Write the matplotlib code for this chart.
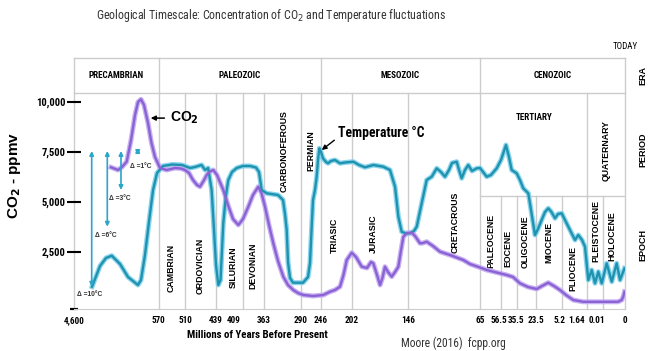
import numpy as np
import matplotlib.pyplot as plt
import matplotlib.transforms as mtransforms
from matplotlib import font_manager

# pick a narrow face for the horizontal texts when one is installed
fonts = font_manager.fontManager.ttflist
names = {f.name for f in fonts}
NARROW, STRETCH = 'Liberation Sans', 'normal'
if 'Roboto Condensed' in names:
    NARROW = 'Roboto Condensed'
elif 'Liberation Sans Narrow' in names:
    NARROW = 'Liberation Sans Narrow'
elif any(f.name == 'DejaVu Sans' and str(f.stretch) in ('condensed', '87.5') for f in fonts):
    NARROW, STRETCH = 'DejaVu Sans', 'condensed'
plt.rcParams['font.family'] = ['Liberation Sans', 'DejaVu Sans']
plt.rcParams['axes.unicode_minus'] = False

# Timescale ticks (Ma) and where each sits on the drawn (non-linear) timeline
tick_ages = [4600, 570, 510, 439, 409, 363, 290, 246, 202, 146, 65, 56.5, 35.5, 23.5, 5.2, 1.64, 0.01, 0]
tick_labels = ['4,600', '570', '510', '439', '409', '363', '290', '246', '202', '146',
               '65', '56.5', '35.5', '23.5', '5.2', '1.64', '0.01', '0']
tick_pos = [0, 84.5, 111, 142, 168.7, 190, 226.5, 246.5, 277.7, 334, 406, 426.7, 442.5,
            462.3, 487.5, 513.3, 529.3, 550.5]
# small sideways shifts (pixels) of crowded tick labels
label_nudge = {'409': -9, '56.5': -2, '5.2': -2, '1.64': -11, '0.01': -6}

y_ticks = [2500, 5000, 7500, 10000]

# Temperature curve (drawn on the CO2 scale), age in Ma
temp_age = [3740, 3360, 3075, 2800, 2405, 2025, 1550, 1405, 1215, 1025, 830, 640, 560, 539, 517,
            498.5, 487, 472, 464, 457, 449, 443.6, 439, 436.4, 433.9, 430.8, 427.8, 425.2, 421,
            415.7, 408.4, 393.2, 380.3, 373.8, 368, 357.6, 335, 325, 321, 317.6, 315, 311, 305,
            284.5, 273.5, 269.1, 264.7, 262.5, 258.1, 254.4, 251.5, 248.6, 245.3, 242.5, 238.2,
            235.4, 231.2, 225.6, 218.5, 211.5, 200.4, 194.7, 188.8, 180.5, 170.6, 163.9, 158.9,
            155.6, 152.3, 148, 143.75, 139.25, 136.2, 130.6, 125, 119.3, 113.7, 108.9, 104.4,
            99.9, 96.5, 91.2, 88.6, 85.6, 81.9, 78.2, 74, 68.7, 65, 62.25, 60.5, 58.15, 56.1,
            49.5, 45.5, 41.9, 35.4, 33.4, 31.4, 28.35, 26.7, 24.3, 22.27, 19.6, 17.2, 14.8, 12.5,
            9.9, 7.75, 5.17, 4.72, 4.03, 3.34, 2.88, 2.37, 1.96, 1.54, 1.19, 0.855, 0.52, 0.17,
            0.0084, 0.0060, 0.0037, 0.0021, 0]
temp_val = [755, 1790, 2190, 2305, 1890, 1240, 840, 1090, 2340, 3990, 5590, 6440, 6790, 6865, 6840,
            6690, 6740, 6840, 6590, 6690, 5590, 3590, 1840, 840, 1090, 3940, 5340, 6090, 6490,
            6690, 6790, 6790, 6715, 6490, 5590, 5425, 5340, 5090, 4390, 3590, 1990, 1190, 955,
            955, 1240, 1940, 4090, 5090, 5590, 6255, 7090, 7675, 7490, 7175, 6990,
            6925, 7040, 7090, 6925, 6965, 7005, 6840, 6725, 6840, 6755, 6590, 5755,
            4255, 3505, 3415, 3425, 3540, 3755, 4925, 6090, 6255, 6675, 6490, 6255,
            6590, 6940, 7005, 6590, 6175, 6590, 6840, 6540, 6675, 6690, 6255, 6340, 6675, 7090,
            7840, 7240, 6590, 6425, 6090, 5675, 5425, 4590, 3340, 3640, 4090, 4490, 4675, 4490,
            4175, 4390, 4425, 4090, 3590, 3090, 3340, 3090, 2755, 1090, 1590, 925, 1505, 925,
            1925, 1005, 1925, 1090, 1675]

# CO2 concentration (ppmv), age in Ma
co2_age = [2835, 2500, 2310, 2087, 1880, 1690, 1548, 1405, 1262, 1071, 904, 737, 566.6, 551.4,
           532.6, 519, 510, 500.8, 491.7, 482.5, 475.7, 467.6, 460.3, 452.75, 445.2, 437.9, 430.8,
           425.5, 419.9, 413.9, 408.4, 396.9, 386.8, 375.3, 368.4, 361, 353, 344.4, 335, 324.4,
           315, 304.4, 295, 283.8, 262.5, 242, 232.6, 225.6, 218.5, 213.6, 209, 202, 197.7, 192,
           186.8, 182.8, 180.5, 176.8, 173.8, 171.4, 168.9, 165.9, 162.2, 158.9, 155.6, 152.9,
           150.6, 147, 141.8, 138.1, 132.5, 129.1, 125, 117.9, 110, 98.75, 83.8, 76.25, 65, 62.25,
           48.5, 40.1, 33.4, 28.5, 23.2, 19.4, 14.8, 10.65, 6.3, 4.58, 3.57, 2.19, 0.0068,
           0.0031, 0.0013, 0.0005, 0]
co2_val = [6725, 6590, 6740, 7005, 8090, 9340, 9990, 10125, 9840, 8940, 7940, 7240, 6690, 6590,
           6690, 6665, 6590, 6440, 6090, 5840, 5755, 6040, 6340, 6515, 6590, 6340, 5590,
           4840, 4140, 3840, 4140, 4755, 5340, 5755, 5440, 4755, 3840, 2925, 2040, 1255,
           840, 590, 440, 340, 290, 340, 505, 590, 755, 1340, 2090, 2455, 2240, 1755,
           1690, 1990, 1925, 1340, 840, 1190, 1755, 1490, 1255, 1490, 1755, 2590,
           3255, 3440, 3455, 3290, 2925, 2940, 3005, 2790, 2505, 2340, 2090, 1890, 1715, 1590,
           1340, 1240, 925, 740, 640, 790, 955, 790, 590, 340, 90, 0, 0,
           0, 90, 290, 505]

# Temperature-range markers
delta_labels = ['Δ =10°C', 'Δ =6°C', 'Δ =3°C', 'Δ =1°C']
delta_age = [3756, 3012, 2359, 1562]
delta_top = [7540, 7540, 7540, 7690]
delta_bottom = [755, 3755, 5590, 7340]

eras = [('PRECAMBRIAN', 4600, 570), ('PALEOZOIC', 570, 246), ('MESOZOIC', 246, 65), ('CENOZOIC', 65, 0)]
periods = [('CAMBRIAN', 542, 1690), ('ORDOVICIAN', 476, 1790), ('SILURIAN', 420, 1740),
           ('DEVONIAN', 387, 1790), ('CARBONOFEROUS', 323, 7540), ('PERMIAN', 268, 7540),
           ('TRIASIC', 226, 3340), ('JURASIC', 180, 3390), ('CRETACROUS', 93, 3990),
           ('QUATERNARY', 0.0087, 7540)]
epochs = [('PALEOCENE', 60.6, 3040), ('EOCENE', 46.8, 2690), ('OLIGOCENE', 30.35, 2990),
          ('MIOCENE', 14.3, 2990), ('PLIOCENE', 3.57, 1665), ('PLEISTOCENE', 0.784, 3540),
          ('HOLOCENE', 0.0058, 3290)]

full_lines = [4600, 570, 510, 439, 409, 363, 290, 246, 202, 146, 65, 1.64, 0]
epoch_lines = [56.5, 35.5, 23.5, 5.2, 0.01]
era_lines = [4600, 570, 246, 65, 0]

asc_ages = np.array(tick_ages[::-1], dtype=float)
asc_neg = -np.array(tick_pos[::-1], dtype=float)


# age -> minus the timeline position, so the scale increases with age (axis is then inverted)
def fwd(a):
    return np.interp(np.asarray(a, dtype=float), asc_ages, asc_neg)


def inv(p):
    return np.interp(np.asarray(p, dtype=float), asc_neg, asc_ages)


def mid(a0, a1):
    return float(inv((fwd(a0) + fwd(a1)) / 2))


TEAL = '#1f93ad'
TEAL_HALO = '#7fd0ee'
PURPLE = '#8a62d4'
PURPLE_HALO = '#c2aaf2'
GRID = '#cccccc'

fig = plt.figure(figsize=(6.5, 3.51), dpi=100)
ax = fig.add_axes([74 / 650, 42 / 351, 550.5 / 650, 216 / 351])
ax.set_xscale('function', functions=(fwd, inv))
ax.set_xlim(4600, 0)
ax.set_ylim(-360, 10440)

for s in ['top', 'right', 'left']:
    ax.spines[s].set_visible(False)
ax.spines['bottom'].set_color(GRID)

# grid of the timescale table
xt = ax.get_xaxis_transform()
head = 1 + 35 / 216
for a in full_lines:
    top = head if a in era_lines else 1.0
    ax.plot([a, a], [0, top], transform=xt, color=GRID, lw=1, clip_on=False, zorder=1)
for a in epoch_lines:
    ax.plot([a, a], [0, 0.523], transform=xt, color=GRID, lw=1, zorder=1)
ax.plot([65, 0], [0.523, 0.523], transform=xt, color=GRID, lw=1, zorder=1)
for yy in [1.0, head]:
    ax.plot([4600, 0], [yy, yy], transform=xt, color=GRID, lw=1, clip_on=False, zorder=1)
ax.plot([4600, 4600], [0, 0], transform=xt, marker='_', ms=6, mew=1.5, color='black', clip_on=False)

for name, a0, a1 in eras:
    ax.text(mid(a0, a1), 1.079, name, transform=xt, ha='center', va='center', fontsize=6.5,
            fontweight='bold', family=NARROW, fontstretch=STRETCH)
for name, a, v in periods + epochs:
    ax.text(a, v, name, rotation=90, ha='center', va='center', fontsize=6.3, fontweight='bold')
ax.text(mid(65, 1.64), 9190, 'TERTIARY', ha='center', va='center', fontsize=6.5,
        fontweight='bold', family=NARROW, fontstretch=STRETCH)

# curves
ax.plot(temp_age, temp_val, color=TEAL_HALO, lw=3.6, alpha=0.9, solid_joinstyle='round', zorder=3)
ax.plot(temp_age, temp_val, color=TEAL, lw=1.7, solid_joinstyle='round', zorder=4)
ax.plot(co2_age, co2_val, color=PURPLE_HALO, lw=3.6, alpha=0.9, solid_joinstyle='round', zorder=3)
ax.plot(co2_age, co2_val, color=PURPLE, lw=1.7, solid_joinstyle='round', zorder=4)

# delta arrows
for lab, a, t, b in zip(delta_labels, delta_age, delta_top, delta_bottom):
    ax.annotate('', xy=(a, b), xytext=(a, t),
                arrowprops=dict(arrowstyle='<|-|>', color='#2aa6c9', lw=1.2,
                                mutation_scale=6, shrinkA=0, shrinkB=0), zorder=5)
delta_text_pos = [(3837, 340), (3074, 3305), (2406, 5140), (1405, 6790)]
for lab, (a, v) in zip(delta_labels, delta_text_pos):
    ax.text(a, v, lab, ha='center', va='center', fontsize=4.8, fontweight='bold', color='#333333')

# annotations
ax.annotate('CO$_\\mathbf{2}$', xy=(942, 9185), xytext=(544, 9185), ha='left', va='center',
            fontsize=10, fontweight='bold',
            arrowprops=dict(arrowstyle='-|>', color='black', lw=1.1, mutation_scale=7,
                            shrinkA=2, shrinkB=0))
ax.annotate('Temperature \u00b0C', xy=(244.3, 7590), xytext=(221, 8440), ha='left', va='center',
            fontsize=9.8, fontweight='bold', family=NARROW, fontstretch=STRETCH,
            arrowprops=dict(arrowstyle='-|>', color='black', lw=1.0, mutation_scale=7,
                            shrinkA=1, shrinkB=0, relpos=(0, 0.2)))

# axes ticks
ax.set_xticks(tick_ages)
ax.set_xticklabels(tick_labels)
ax.xaxis.set_minor_locator(plt.NullLocator())
ax.tick_params(axis='x', length=0, pad=5)
for t in ax.get_xticklabels():
    t.set_fontweight('bold')
    t.set_fontsize(6.6)
    t.set_family(NARROW)
    t.set_fontstretch(STRETCH)
    dx = label_nudge.get(t.get_text(), 0)
    if dx:
        t.set_transform(t.get_transform() + mtransforms.ScaledTranslation(dx / 100, 0, fig.dpi_scale_trans))
ax.set_yticks(y_ticks)
ax.set_yticklabels(['2,500', '5,000', '7,500', '10,000'])
ax.yaxis.set_minor_locator(plt.NullLocator())
ax.tick_params(axis='y', direction='inout', length=10, width=1.5, pad=1)
for t in ax.get_yticklabels():
    t.set_fontweight('bold')
    t.set_fontsize(7.6)
    t.set_family(NARROW)
    t.set_fontstretch(STRETCH)
ax.set_ylabel('CO$_\\mathbf{2}$ - ppmv', fontsize=11, fontweight='bold')
ax.yaxis.set_label_coords(-0.093, 0.616)

fig.text(0.417, 0.957, 'Geological Timescale: Concentration of CO$_2$ and Temperature fluctuations',
         ha='center', va='center', fontsize=8.6, color='#333333', family=NARROW, fontstretch=STRETCH)
fig.text(0.396, 0.046, 'Millions of Years Before Present', ha='center', va='center',
         fontsize=7.8, fontweight='bold', family=NARROW, fontstretch=STRETCH)
fig.text(0.698, 0.023, 'Moore (2016)  fcpp.org', ha='center', va='center', fontsize=8.3,
         color='#333333', family=NARROW, fontstretch=STRETCH)
fig.text(0.962, 0.867, 'TODAY', ha='center', va='center', fontsize=6.5, family=NARROW,
         fontstretch=STRETCH)
for lab, yy in [('ERA', 0.786), ('PERIOD', 0.573), ('EPOCH', 0.302)]:
    fig.text(0.989, yy, lab, rotation=90, ha='center', va='center', fontsize=6.5, fontweight='bold')

fig.savefig('out.png', dpi=100, facecolor='white')
